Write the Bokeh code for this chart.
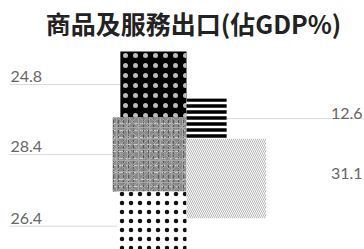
from bokeh.plotting import figure
from bokeh.models import Range1d, Label
from bokeh.embed import file_html
from bokeh.resources import INLINE
from bokeh.core.properties import value

# ---- data ----
title_text = "商品及服務出口(佔GDP%)"
left_values = [24.8, 28.4, 26.4]
left_labels = ["24.8", "28.4", "26.4"]
right_values = [12.6, 31.1]
right_labels = ["12.6", "31.1"]

# ---- layout (styles / positions), plot units are screen pixels ----
W, H = 364, 249
SIZE_SLOPE, SIZE_BASE = 2.13, 13.3   # square side = slope * value + base
CENTER = 186                         # x of the centre line
LEFT_TOP, RIGHT_TOP = 51, 98
LEFT_TEXT_X, RIGHT_TEXT_X = 10, 362
LEFT_LINE_X, RIGHT_LINE_X = 9, 362
LABEL_FONT = "Lato"
TITLE_FONT = "Noto Sans CJK TC"

# each square: list of layers (fill + hatch)
left_styles = [
    [dict(fill="#000000", falpha=1, pattern="dot", hcolor="#bcbcbc", scale=10, weight=1)],
    [dict(fill="#8a8a8a", falpha=1, pattern="horizontal_dash", hcolor="#cccccc", scale=7, weight=1.2),
     dict(fill="#8a8a8a", falpha=0, pattern="vertical_dash", hcolor="#585858", scale=5, weight=1),
     dict(fill="#8a8a8a", falpha=0, pattern="criss_cross", hcolor="#a8a8a8", scale=11, weight=1)],
    [dict(fill="#ffffff", falpha=1, pattern="dot", hcolor="#111111", scale=9, weight=1)],
]
right_styles = [
    [dict(fill="#ffffff", falpha=1, pattern="horizontal_line", hcolor="#000000", scale=6, weight=3.5)],
    [dict(fill="#ffffff", falpha=1, pattern="left_diagonal_line", hcolor="#b4b4b4", scale=4, weight=1)],
]
right_leader_alpha = [1, 0]

p = figure(width=W, height=H, x_range=Range1d(0, W), y_range=Range1d(H, 0),
           x_axis_location=None, y_axis_location=None, toolbar_location=None,
           output_backend="svg", min_border=0, background_fill_color="white",
           border_fill_color="white")
p.grid.visible = False
p.outline_line_color = None


def side(v):
    return SIZE_SLOPE * v + SIZE_BASE


def stack(vals, top):
    tops, t = [], top
    for v in vals:
        tops.append(t)
        t += side(v)
    return tops


left_tops = stack(left_values, LEFT_TOP)
right_tops = stack(right_values, RIGHT_TOP)
left_cy = [t + side(v) / 2 for t, v in zip(left_tops, left_values)]
right_cy = [t + side(v) / 2 for t, v in zip(right_tops, right_values)]

# leader lines
p.segment(x0=[LEFT_LINE_X] * len(left_values), x1=[CENTER - side(v) for v in left_values],
          y0=left_cy, y1=left_cy, line_color="#d9d9d9", line_width=1)
p.segment(x0=[CENTER + side(v) for v in right_values], x1=[RIGHT_LINE_X] * len(right_values),
          y0=right_cy, y1=right_cy, line_color="#d9d9d9", line_width=1,
          line_alpha=right_leader_alpha)


# squares
def draw(v, cx, cy, layers):
    for st in layers:
        p.rect(x=[cx], y=[cy], width=[side(v)], height=[side(v)], line_color=None,
               fill_color=st["fill"], fill_alpha=st["falpha"], hatch_pattern=st["pattern"],
               hatch_color=st["hcolor"], hatch_scale=st["scale"], hatch_weight=st["weight"])


for v, cy, layers in zip(left_values, left_cy, left_styles):
    draw(v, CENTER - side(v) / 2, cy, layers)
for v, cy, layers in zip(right_values, right_cy, right_styles):
    draw(v, CENTER + side(v) / 2, cy, layers)

# value labels
p.text(x=[LEFT_TEXT_X] * len(left_labels), y=left_cy, text=left_labels,
       text_align="left", text_baseline="alphabetic", y_offset=-8,
       text_font=value(LABEL_FONT), text_font_size="16px", text_color="#666666")
p.text(x=[RIGHT_TEXT_X] * len(right_labels), y=right_cy, text=right_labels,
       text_align="right", text_baseline="alphabetic", y_offset=-5,
       text_font=value(LABEL_FONT), text_font_size="16px", text_color="#666666")

# title
p.add_layout(Label(x=193, y=H - 22, x_units="screen", y_units="screen",
                   text=title_text, text_align="center", text_baseline="middle",
                   text_font=TITLE_FONT, text_font_size="25px", text_font_style="bold",
                   text_color="#222222"))

open("out.html", "w").write(file_html(p, INLINE))
